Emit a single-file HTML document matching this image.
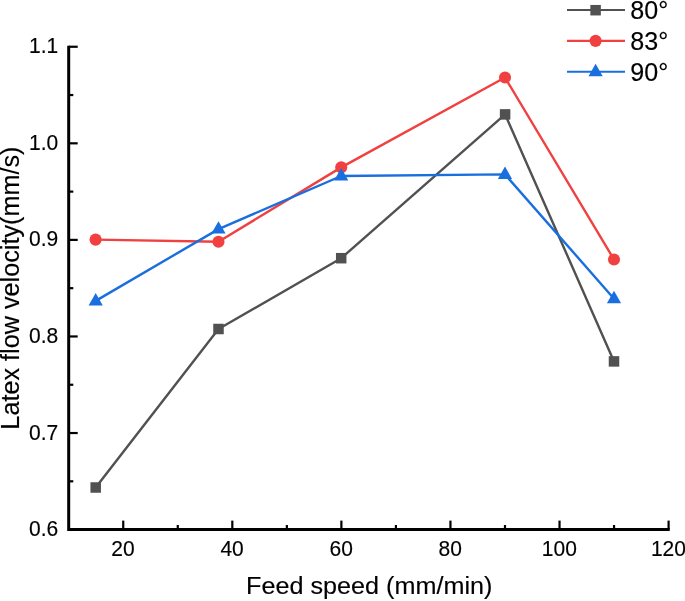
<!DOCTYPE html>
<html><head><meta charset="utf-8"><title>Latex flow velocity vs feed speed</title>
<style>
html,body{margin:0;padding:0;background:#fff;}
body{width:685px;height:601px;overflow:hidden;}
svg{display:block;}
text{font-family:"Liberation Sans",Arial,Helvetica,sans-serif;fill:#000;stroke:#000;stroke-width:0.15px;}
.tick{font-size:21px;}
.lab{font-size:25.2px;}
.leg{font-size:25.1px;}
</style></head><body>
<svg width="685" height="601" viewBox="0 0 685 601">
<rect width="685" height="601" fill="#fff"/>
<polyline points="95.70,487.50 218.50,329.00 341.20,258.20 505.10,114.40 614.00,361.40" fill="none" stroke="#515151" stroke-width="2.4" stroke-linejoin="round"/>
<rect x="90.45" y="482.25" width="10.5" height="10.5" fill="#515151"/>
<rect x="213.25" y="323.75" width="10.5" height="10.5" fill="#515151"/>
<rect x="335.95" y="252.95" width="10.5" height="10.5" fill="#515151"/>
<rect x="499.85" y="109.15" width="10.5" height="10.5" fill="#515151"/>
<rect x="608.75" y="356.15" width="10.5" height="10.5" fill="#515151"/>
<polyline points="95.60,239.60 218.50,241.70 341.20,167.40 505.00,77.50 614.00,259.50" fill="none" stroke="#F14040" stroke-width="2.4" stroke-linejoin="round"/>
<circle cx="95.60" cy="239.60" r="6.05" fill="#F14040"/>
<circle cx="218.50" cy="241.70" r="6.05" fill="#F14040"/>
<circle cx="341.20" cy="167.40" r="6.05" fill="#F14040"/>
<circle cx="505.00" cy="77.50" r="6.05" fill="#F14040"/>
<circle cx="614.00" cy="259.50" r="6.05" fill="#F14040"/>
<polyline points="95.70,300.90 218.50,229.10 341.20,176.00 505.00,174.40 614.00,298.70" fill="none" stroke="#1A6FDF" stroke-width="2.4" stroke-linejoin="round"/>
<polygon points="95.70,293.00 88.60,305.40 102.80,305.40" fill="#1A6FDF"/>
<polygon points="218.50,221.20 211.40,233.60 225.60,233.60" fill="#1A6FDF"/>
<polygon points="341.20,168.10 334.10,180.50 348.30,180.50" fill="#1A6FDF"/>
<polygon points="505.00,166.50 497.90,178.90 512.10,178.90" fill="#1A6FDF"/>
<polygon points="614.00,290.80 606.90,303.20 621.10,303.20" fill="#1A6FDF"/>
<g stroke="#000" stroke-width="3.0" fill="none" stroke-linecap="butt" stroke-linejoin="miter">
<path d="M68.70,45.65 V529.60 H669.70"/>
</g>
<g stroke="#000" stroke-width="2.2" fill="none" stroke-linecap="butt">
<path d="M68.70,46.75 h9.0"/>
<path d="M668.60,529.60 v-9.0"/>
<path d="M68.70,481.31 h4.6"/>
<path d="M68.70,433.03 h9.0"/>
<path d="M68.70,384.75 h4.6"/>
<path d="M68.70,336.46 h9.0"/>
<path d="M68.70,288.18 h4.6"/>
<path d="M68.70,239.89 h9.0"/>
<path d="M68.70,191.61 h4.6"/>
<path d="M68.70,143.32 h9.0"/>
<path d="M68.70,95.03 h4.6"/>
<path d="M123.24,529.60 v-9.0"/>
<path d="M177.77,529.60 v-4.6"/>
<path d="M232.31,529.60 v-9.0"/>
<path d="M286.85,529.60 v-4.6"/>
<path d="M341.38,529.60 v-9.0"/>
<path d="M395.92,529.60 v-4.6"/>
<path d="M450.45,529.60 v-9.0"/>
<path d="M504.99,529.60 v-4.6"/>
<path d="M559.53,529.60 v-9.0"/>
<path d="M614.06,529.60 v-4.6"/>
</g>
<text class="tick" transform="translate(58.20 536.10) scale(1 1.04)" text-anchor="end">0.6</text>
<text class="tick" transform="translate(58.20 439.53) scale(1 1.04)" text-anchor="end">0.7</text>
<text class="tick" transform="translate(58.20 342.96) scale(1 1.04)" text-anchor="end">0.8</text>
<text class="tick" transform="translate(58.20 246.39) scale(1 1.04)" text-anchor="end">0.9</text>
<text class="tick" transform="translate(58.20 149.82) scale(1 1.04)" text-anchor="end">1.0</text>
<text class="tick" transform="translate(58.20 53.25) scale(1 1.04)" text-anchor="end">1.1</text>
<text class="tick" transform="translate(123.04 555.80) scale(1 1.04)" text-anchor="middle">20</text>
<text class="tick" transform="translate(232.11 555.80) scale(1 1.04)" text-anchor="middle">40</text>
<text class="tick" transform="translate(341.18 555.80) scale(1 1.04)" text-anchor="middle">60</text>
<text class="tick" transform="translate(450.25 555.80) scale(1 1.04)" text-anchor="middle">80</text>
<text class="tick" transform="translate(559.33 555.80) scale(1 1.04)" text-anchor="middle">100</text>
<text class="tick" transform="translate(668.40 555.80) scale(1 1.04)" text-anchor="middle">120</text>
<text class="lab" transform="translate(369.20 594.40) scale(1 0.98)" text-anchor="middle">Feed speed (mm/min)</text>
<text class="lab" transform="translate(19.20 288.10) rotate(-90) scale(1 1.0)" text-anchor="middle" style="font-size:25.23px">Latex flow velocity(mm/s)</text>
<path d="M567,9.95 H625" stroke="#515151" stroke-width="2.1" fill="none"/>
<rect x="590.35" y="4.95" width="10.5" height="10.5" fill="#515151"/>
<text class="leg" transform="translate(630.30 19.05) scale(1 1.0)" text-anchor="start">80°</text>
<path d="M567,40.85 H625" stroke="#F14040" stroke-width="2.1" fill="none"/>
<circle cx="595.60" cy="40.85" r="6.05" fill="#F14040"/>
<text class="leg" transform="translate(630.30 49.95) scale(1 1.0)" text-anchor="start">83°</text>
<path d="M567,71.75 H625" stroke="#1A6FDF" stroke-width="2.1" fill="none"/>
<polygon points="595.60,63.85 588.50,76.25 602.70,76.25" fill="#1A6FDF"/>
<text class="leg" transform="translate(630.30 80.85) scale(1 1.0)" text-anchor="start">90°</text>
</svg></body></html>
